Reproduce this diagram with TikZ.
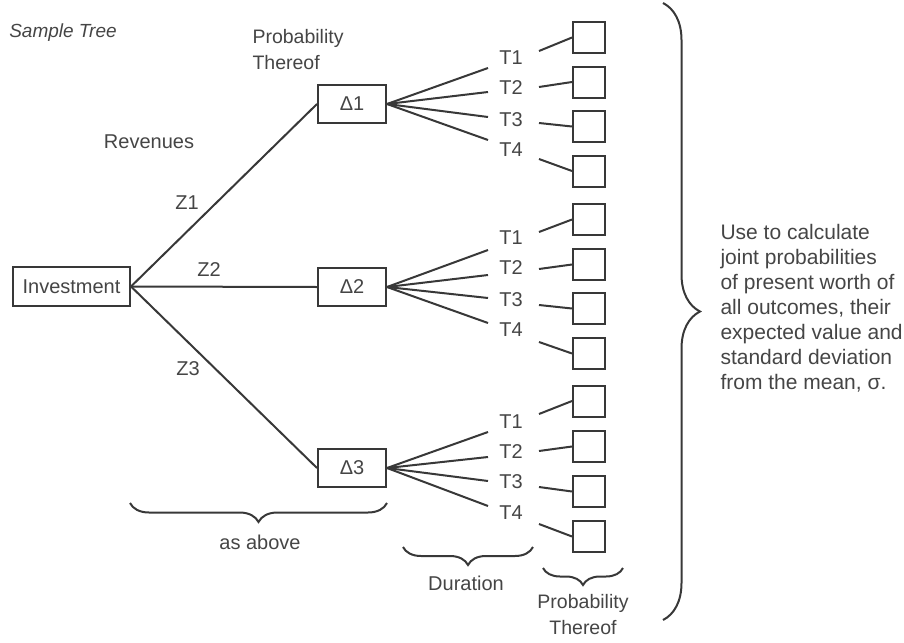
\documentclass[tikz,border=0pt]{standalone}
\usepackage{fontspec}
\setmainfont{Liberation Sans}
\usetikzlibrary{decorations.pathreplacing}
\definecolor{ink}{HTML}{383838}
\definecolor{txt}{HTML}{454545}
\begin{document}
\begin{tikzpicture}[x=1pt,y=-1pt,
  every node/.style={text=txt,font=\fontsize{20}{24}\selectfont},
  line/.style={draw=ink,line width=2pt},
  box/.style={draw=ink,line width=2pt,inner sep=0pt,fill=white},
  dbox/.style={box,minimum width=68pt,minimum height=38pt},
  sq/.style={box,minimum width=32pt,minimum height=31pt},
  tlab/.style={inner sep=0pt},
  brc/.style={draw=ink,line width=2pt,decorate,decoration={brace,amplitude=#1}}]
\useasboundingbox (0,0) rectangle (904,642);

% headings
\node[font=\fontsize{19}{23}\selectfont\itshape] (title) at (63,33) {Sample Tree};
\node[align=left,anchor=west,font=\fontsize{19.5}{26}\selectfont] (ptop) at (249,50) {Probability\\Thereof};
\node (rev) at (149,142) {Revenues};

% main boxes
\node[box,minimum width=117pt,minimum height=39pt] (inv) at (71.5,286.5) {Investment};
\node[dbox] (d1) at (352,104) {Δ1};
\node[dbox] (d2) at (352,287) {Δ2};
\node[dbox] (d3) at (352,468) {Δ3};

\draw[line] (inv.east) -- (d1.west);
\draw[line] (inv.east) -- (d2.west);
\draw[line] (inv.east) -- (d3.west);
\node (z1) at (187,203) {Z1};
\node (z2) at (209,270) {Z2};
\node (z3) at (188,369) {Z3};

% T labels
\foreach \g/\ya/\yb/\yc/\yd in {1/58/88/120/150, 2/238/268/300/330, 3/422/452/482/513}{
  \node[tlab] (t\g1) at (511,\ya) {T1};
  \node[tlab] (t\g2) at (511,\yb) {T2};
  \node[tlab] (t\g3) at (511,\yc) {T3};
  \node[tlab] (t\g4) at (511,\yd) {T4};
}

% fan end points
\foreach \g/\ya/\yb/\yc/\yd in {1/68/92/117/140, 2/250/275/298/323, 3/432/457/481/506}{
  \coordinate (f\g1) at (488,\ya);
  \coordinate (f\g2) at (488,\yb);
  \coordinate (f\g3) at (488,\yc);
  \coordinate (f\g4) at (488,\yd);
}
\foreach \g in {1,2,3}{
  \foreach \k in {1,2,3,4}{
    \draw[line] (d\g.east) -- (f\g\k);
  }
}

% squares
\foreach \g/\ya/\yb/\yc/\yd in {1/37.5/82/126.5/171, 2/219.5/264.5/308.5/353.5, 3/401/446.5/491.5/536.5}{
  \node[sq] (s\g1) at (589,\ya) {};
  \node[sq] (s\g2) at (589,\yb) {};
  \node[sq] (s\g3) at (589,\yc) {};
  \node[sq] (s\g4) at (589,\yd) {};
}
% short line start points
\foreach \g/\ya/\yb/\yc/\yd in {1/51/87/123/159, 2/232/269/305/342, 3/414/451/487/524}{
  \coordinate (g\g1) at (539,\ya);
  \coordinate (g\g2) at (539,\yb);
  \coordinate (g\g3) at (539,\yc);
  \coordinate (g\g4) at (539,\yd);
}
\foreach \g in {1,2,3}{
  \foreach \k in {1,2,3,4}{
    \draw[line] (g\g\k) -- (s\g\k.west);
  }
}

% braces
\coordinate (ba1) at (387,503);
\coordinate (ba2) at (130,503);
\draw[brc=19pt] (ba1) -- (ba2);
\node (asab) at (260,542) {as above};

\coordinate (bd1) at (533,547);
\coordinate (bd2) at (403,547);
\draw[brc=18pt] (bd1) -- (bd2);
\node (dur) at (466,583) {Duration};

\coordinate (bp1) at (623,568);
\coordinate (bp2) at (543,568);
\draw[brc=17pt] (bp1) -- (bp2);
\node[align=center,font=\fontsize{19.5}{26}\selectfont] (pbot) at (583,615) {Probability\\Thereof};

\coordinate (bb1) at (663,3);
\coordinate (bb2) at (663,620);
\draw[brc=37pt] (bb1) -- (bb2);
\node[align=left,anchor=west,font=\fontsize{21}{25}\selectfont] (note) at (717,308)
  {Use to calculate\\joint probabilities\\of present worth of\\all outcomes, their\\expected value and\\standard deviation\\from the mean, σ.};
\end{tikzpicture}
\end{document}
